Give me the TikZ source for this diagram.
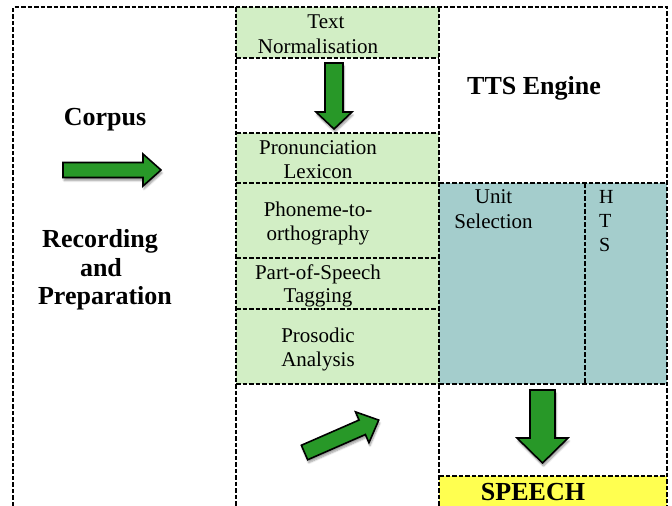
\documentclass[tikz,border=0pt]{standalone}
\usepackage{fontspec}
\setmainfont{Liberation Serif}
\usetikzlibrary{shadows.blur}
\definecolor{stepgreen}{RGB}{210,238,197}
\definecolor{enginecyan}{RGB}{164,205,204}
\definecolor{speechyellow}{RGB}{255,255,80}
\definecolor{arrowgreen}{RGB}{40,152,40}

\tikzset{
  grid/.style={dash pattern=on 4.5pt off 2pt, line width=1.6pt, black},
  cell/.style={anchor=north west, inner sep=0pt, outer sep=0pt, draw=none},
  lbl/.style={anchor=base, inner sep=0pt, font=\fontsize{21}{25}\selectfont},
  smalllbl/.style={anchor=base west, inner sep=0pt, font=\fontsize{20}{24}\selectfont},
  head/.style={anchor=base, inner sep=0pt, font=\fontsize{26}{30}\selectfont\bfseries},
  fatarrowstyle/.style={fill=arrowgreen, draw=black, line width=1.6pt, line join=miter,
    blur shadow={shadow xshift=1pt, shadow yshift=-3pt, shadow blur steps=6, shadow opacity=40}},
  % block arrow: length / half shaft width / half head width / head length
  pics/fatarrow/.style args={#1/#2/#3/#4}{code={
    \draw[fatarrowstyle] (0,-#2) -- ({#1-#4},-#2) -- ({#1-#4},-#3) -- (#1,0)
      -- ({#1-#4},#3) -- ({#1-#4},#2) -- (0,#2) -- cycle;}}
}

\begin{document}
\begin{tikzpicture}[x=1pt,y=-1pt]
\useasboundingbox (0,0) rectangle (672,506);

% coloured cells
\node[cell, fill=stepgreen, minimum width=203pt, minimum height=51pt] (norm) at (236,7) {};
\node[cell, fill=stepgreen, minimum width=203pt, minimum height=251pt] (lex) at (236,133) {};
\node[cell, fill=enginecyan, minimum width=146pt, minimum height=201pt] (unitsel) at (439,183) {};
\node[cell, fill=enginecyan, minimum width=82pt, minimum height=201pt] (hts) at (585,183) {};
\node[cell, fill=speechyellow, minimum width=228pt, minimum height=30pt] (speech) at (439,476) {};

% dashed frame and dividers
\draw[grid] (13,506) -- (13,7) -- (667,7) -- (667,506);
\draw[grid] (236,7) -- (236,506);
\draw[grid] (439,7) -- (439,506);
\foreach \yy in {58,133,183,258,309,384} \draw[grid] (236,\yy) -- (439,\yy);
\foreach \yy in {183,384,476} \draw[grid] (439,\yy) -- (667,\yy);
\draw[grid] (585,183) -- (585,384);

% headings
\node[head] (corpus) at (105,125) {Corpus};
\node[head] (rec1) at (100,247) {Recording};
\node[head] (rec2) at (101,276) {and};
\node[head] (rec3) at (105,304) {Preparation};
\node[head] (tts) at (534,94) {TTS Engine};
\node[head] (spch) at (533,500) {SPEECH};

% processing steps
\node[lbl] (tn1) at (326,28) {Text};
\node[lbl] (tn2) at (318,53) {Normalisation};
\node[lbl] (pl1) at (318,154) {Pronunciation};
\node[lbl] (pl2) at (318,178) {Lexicon};
\node[lbl] (po1) at (318,216) {Phoneme-to-};
\node[lbl] (po2) at (318,240) {orthography};
\node[lbl] (ps1) at (318,279) {Part-of-Speech};
\node[lbl] (ps2) at (318,302) {Tagging};
\node[lbl] (pa1) at (318,342) {Prosodic};
\node[lbl] (pa2) at (318,366) {Analysis};
\node[lbl] (us1) at (493.5,203) {Unit};
\node[lbl] (us2) at (493.5,228) {Selection};
\node[smalllbl] (h1) at (599,203) {H};
\node[smalllbl] (h2) at (599,227) {T};
\node[smalllbl] (h3) at (599,251) {S};

% block arrows
\pic (arrcorpus) at (63,170) {fatarrow=98/7.5/16/18};
\pic[rotate=-90] (arrnorm) at (334,63) {fatarrow=66/9/18/17};
\pic[rotate=23.6] (arrprep) at (304.5,452.5) {fatarrow=81/7.9/16.8/18};
\pic[rotate=-90] (arrspeech) at (542.5,390) {fatarrow=73/12.5/25.5/25};
\end{tikzpicture}
\end{document}
